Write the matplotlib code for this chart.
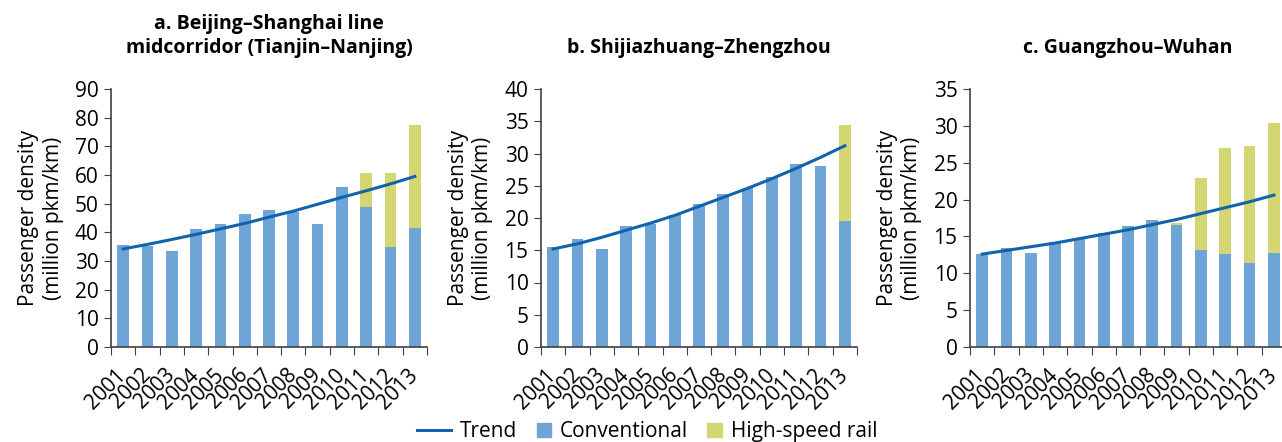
import matplotlib.pyplot as plt
from matplotlib.lines import Line2D
from matplotlib.patches import Patch, Rectangle
from matplotlib.legend_handler import HandlerPatch
import numpy as np

plt.switch_backend('Agg')
plt.rcParams['font.family'] = ['Open Sans', 'DejaVu Sans']

years = [str(y) for y in range(2001, 2014)]

# a. Beijing-Shanghai (Tianjin-Nanjing)
conv_a = [35.6, 35.4, 33.5, 41.2, 42.9, 46.4, 47.8, 47.2, 42.9, 55.8, 48.8, 34.9, 41.6]
hsr_a = [0, 0, 0, 0, 0, 0, 0, 0, 0, 0, 11.9, 25.8, 35.8]
trend_a = [34.2, 35.8, 37.5, 39.3, 41.2, 43.1, 45.3, 47.4, 49.8, 52.2, 54.5, 56.9, 59.5]

# b. Shijiazhuang-Zhengzhou
conv_b = [15.5, 16.7, 15.2, 18.8, 19.1, 20.5, 22.1, 23.7, 24.6, 26.3, 28.4, 28.1, 19.5]
hsr_b = [0, 0, 0, 0, 0, 0, 0, 0, 0, 0, 0, 0, 14.9]
trend_b = [15.2, 16.0, 17.0, 18.1, 19.2, 20.4, 21.8, 23.2, 24.6, 26.1, 27.7, 29.4, 31.2]

# c. Guangzhou-Wuhan
conv_c = [12.6, 13.4, 12.8, 14.3, 14.8, 15.4, 16.4, 17.2, 16.6, 13.2, 12.6, 11.4, 12.8]
hsr_c = [0, 0, 0, 0, 0, 0, 0, 0, 0.2, 9.7, 14.4, 15.8, 17.6]
trend_c = [12.6, 13.1, 13.6, 14.1, 14.7, 15.3, 15.9, 16.6, 17.3, 18.1, 18.9, 19.7, 20.6]

titles = ['a. Beijing\u2013Shanghai line\nmidcorridor (Tianjin\u2013Nanjing)',
          'b. Shijiazhuang\u2013Zhengzhou',
          'c. Guangzhou\u2013Wuhan']
ymax = [90, 40, 35]
ystep = [10, 5, 5]

BLUE = '#6fa4d6'
GREEN = '#d4d672'
LINE = '#1064ac'
AXC = '#404040'
FS = 15

fig = plt.figure(figsize=(12.82, 4.42), dpi=100)
lefts = [111 / 1282, 541 / 1282, 970 / 1282]
W = 316 / 1282
bottom = (442 - 347) / 442
height = (347 - 89) / 442

data = [(conv_a, hsr_a, trend_a), (conv_b, hsr_b, trend_b), (conv_c, hsr_c, trend_c)]
x = np.arange(len(years))

for i, (conv, hsr, trend) in enumerate(data):
    ax = fig.add_axes([lefts[i], bottom, W, height])
    ax.bar(x, conv, width=0.48, color=BLUE, zorder=2)
    ax.bar(x, hsr, width=0.48, bottom=conv, color=GREEN, zorder=2)
    ax.plot(x, trend, color=LINE, lw=2.2, zorder=3)

    ax.set_xlim(-0.5, len(years) - 0.5)
    ax.set_ylim(0, ymax[i])
    ax.set_yticks(np.arange(0, ymax[i] + 1, ystep[i]))
    # ticks on category boundaries, labels under the bars
    ax.set_xticks(np.arange(-0.5, len(years), 1.0))
    ax.set_xticklabels([])
    ax.set_xticks(x, minor=True)
    ax.set_xticklabels(years, minor=True, rotation=45, ha='right',
                       va='center', rotation_mode='anchor', fontsize=15)
    ax.tick_params(axis='x', which='major', length=6, color=AXC)
    ax.tick_params(axis='x', which='minor', length=0, pad=18)
    ax.tick_params(axis='y', length=5, color=AXC, labelsize=FS, pad=4)
    for s in ['top', 'right']:
        ax.spines[s].set_visible(False)
    for s in ['left', 'bottom']:
        ax.spines[s].set_color(AXC)
        ax.spines[s].set_linewidth(1.2)
    ax.set_ylabel('Passenger density\n(million pkm/km)', fontsize=FS, labelpad=8)
    ax.set_title(titles[i], fontsize=14, fontweight='bold', pad=26, linespacing=1.25)


def square(legend, orig_handle, xdescent, ydescent, width, height, fontsize):
    s = 0.68 * fontsize
    return Rectangle((-xdescent + width - s, -ydescent + (height - s) / 2), s, s)


handles = [Line2D([0], [0], color=LINE, lw=2.2),
           Patch(color=BLUE), Patch(color=GREEN)]
fig.legend(handles, ['Trend', 'Conventional', 'High-speed rail'],
           loc='center', bbox_to_anchor=(0.505, 0.024), ncol=3, frameon=False,
           fontsize=FS, handlelength=1.6, columnspacing=0.0, handletextpad=0.45,
           handler_map={Patch: HandlerPatch(patch_func=square)})

fig.savefig('out.png', dpi=100)
plt.close(fig)
